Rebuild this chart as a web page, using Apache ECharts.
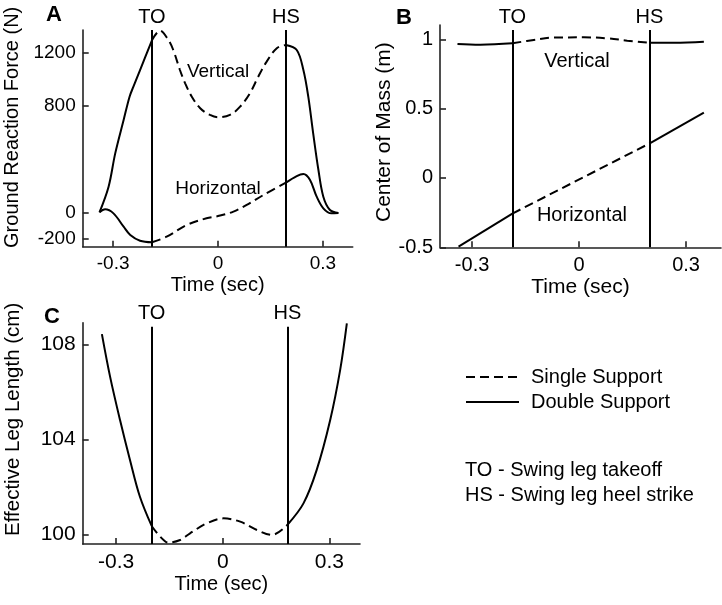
<!DOCTYPE html>
<html><head><meta charset="utf-8">
<script src="https://cdn.jsdelivr.net/npm/echarts@6/dist/echarts.min.js"></script>
<style>html,body{margin:0;padding:0;background:#fff}#c{width:722px;height:605px}</style>
</head><body><div id="c"></div>
<script>
// ---------- Panel A: Ground reaction force ----------
var aTO = -0.189, aHS = 0.194;
var aVertT = [-0.339,-0.313,-0.294,-0.27,-0.253,-0.242,-0.223,-0.189,-0.166,-0.142,-0.128,-0.109,-0.094,-0.075,-0.051,-0.023,0,0.034,0.063,0.091,0.115,0.139,0.168,0.194,0.225,0.244,0.258,0.272,0.287,0.301,0.32,0.344];
var aVertV = [0,192,442,692,867,942,1067,1290,1362,1292,1217,1067,967,867,780,730,712,730,792,892,1017,1130,1230,1255,1217,1067,867,592,317,117,17,-5];
var aHorT = [-0.339,-0.323,-0.299,-0.27,-0.251,-0.223,-0.189,-0.147,-0.089,-0.033,0,0.044,0.082,0.13,0.194,0.225,0.244,0.263,0.282,0.301,0.324,0.344];
var aHorV = [0,22,-8,-108,-170,-213,-225,-183,-95,-45,-28,5,55,130,222,272,287,242,117,30,-8,-5];
var aYTicks = [-200,0,800,1200];
var aEventTop = 1367;
// ---------- Panel B: Center of mass ----------
var bTO = -0.187, bHS = 0.197;
var bVertT = [-0.341,-0.277,-0.187,-0.127,-0.071,0.013,0.079,0.135,0.197,0.266,0.35];
var bVertV = [0.966,0.961,0.971,0.995,1.012,1.014,1.007,0.99,0.975,0.975,0.983];
var bHorT = [-0.338,-0.187,0.197,0.35];
var bHorV = [-0.495,-0.257,0.248,0.471];
var bYTicks = [-0.5,0,0.5,1];
var bEventTop = 1.067;
// ---------- Panel C: Effective leg length ----------
var cTO = -0.2, cHS = 0.182;
var cLegT = [-0.34,-0.317,-0.289,-0.261,-0.233,-0.2,-0.176,-0.153,-0.12,-0.092,-0.045,0.002,0.049,0.096,0.138,0.182,0.227,0.264,0.302,0.33,0.349];
var cLegV = [108.43,106.64,104.81,103.13,101.58,100.35,99.9,99.65,99.76,100.04,100.46,100.67,100.53,100.18,99.97,100.4,101.3,102.7,104.8,106.9,108.88];
var cYTicks = [100,104,108];
var cEventTop = 108.74;
var xTicks = [-0.3,0,0.3];

var FONT = 'Liberation Sans, Arial, sans-serif';
var DASH = [9,5];

function segs(T, V, to, hs) {
  var s1 = [], s2 = [], s3 = [];
  for (var i = 0; i < T.length; i++) {
    var p = [T[i], V[i]];
    if (T[i] <= to) s1.push(p);
    if (T[i] >= to && T[i] <= hs) s2.push(p);
    if (T[i] >= hs) s3.push(p);
  }
  return [s1, s2, s3];
}
function lineSeries(name, data, gi, dashed, smooth) {
  return {
    type: 'line', name: name, xAxisIndex: gi, yAxisIndex: gi, data: data,
    showSymbol: false, symbol: 'none', smooth: smooth, silent: true,
    lineStyle: { color: '#000', width: 2, type: dashed ? DASH : 'solid' },
    itemStyle: { color: '#000' }
  };
}
function curve(T, V, to, hs, gi, smooth) {
  var s = segs(T, V, to, hs);
  return [
    lineSeries('Double Support', s[0], gi, false, smooth),
    lineSeries('Single Support', s[1], gi, true, smooth),
    lineSeries('Double Support', s[2], gi, false, smooth)
  ];
}
function eventLines(gi, to, hs, bottom, top, fs) {
  return {
    type: 'line', name: 'events', xAxisIndex: gi, yAxisIndex: gi, data: [],
    markLine: {
      symbol: 'none', silent: true, animation: false,
      lineStyle: { color: '#000', width: 2, type: 'solid' },
      label: { show: true, position: 'end', fontSize: fs, color: '#000', fontFamily: FONT, distance: 3 },
      data: [
        [{ coord: [to, bottom] }, { coord: [to, top], label: { formatter: 'TO' } }],
        [{ coord: [hs, bottom] }, { coord: [hs, top], label: { formatter: 'HS' } }]
      ]
    }
  };
}
function textMark(gi, x, y, txt, fs) {
  return {
    type: 'scatter', name: 'note', xAxisIndex: gi, yAxisIndex: gi, symbolSize: 0.1, silent: true,
    data: [[x, y]],
    itemStyle: { opacity: 1, color: '#000' },
    label: { show: true, position: 'inside', formatter: txt, fontSize: fs, color: '#000',
             fontFamily: FONT, textBorderWidth: 0, textBorderColor: 'transparent' }
  };
}
function xAx(gi, min, max, fs, nfs, gap) {
  return {
    type: 'value', gridIndex: gi, min: min, max: max,
    name: 'Time (sec)', nameLocation: 'middle', nameGap: gap,
    nameTextStyle: { fontSize: nfs, color: '#000', fontFamily: FONT },
    axisLine: { show: true, onZero: false, lineStyle: { color: '#222', width: 1.6 } },
    axisTick: { show: true, inside: true, length: 6, customValues: xTicks, lineStyle: { color: '#222', width: 1.6 } },
    axisLabel: { customValues: xTicks, fontSize: fs, color: '#000', fontFamily: FONT, margin: 8,
                 formatter: function (v) { return v === 0 ? '0' : String(v); } },
    splitLine: { show: false }
  };
}
function yAx(gi, min, max, ticks, name, fs, nfs, gap, shift) {
  return {
    type: 'value', gridIndex: gi, min: min, max: max,
    name: name, nameLocation: 'middle', nameGap: gap,
    nameTextStyle: { fontSize: nfs, color: '#000', fontFamily: FONT, padding: [0, 0, 0, shift] },
    axisLine: { show: true, onZero: false, lineStyle: { color: '#222', width: 1.6 } },
    axisTick: { show: true, inside: true, length: 6, customValues: ticks, lineStyle: { color: '#222', width: 1.6 } },
    axisLabel: { customValues: ticks, fontSize: fs, color: '#000', fontFamily: FONT, margin: 7,
                 formatter: function (v) { return String(v); } },
    splitLine: { show: false }
  };
}

var series = [];
series = series.concat(curve(aVertT, aVertV, aTO, aHS, 0, 0.35));
series = series.concat(curve(aHorT, aHorV, aTO, aHS, 0, 0.35));
series.push(eventLines(0, aTO, aHS, -258, aEventTop, 20));
series.push(textMark(0, 0, 1052, 'Vertical', 19));
series.push(textMark(0, 0, 180, 'Horizontal', 19));

series = series.concat(curve(bVertT, bVertV, bTO, bHS, 1, 0.4));
series = series.concat(curve(bHorT, bHorV, bTO, bHS, 1, false));
series.push(eventLines(1, bTO, bHS, -0.5, bEventTop, 20));
series.push(textMark(1, -0.006, 0.838, 'Vertical', 20));
series.push(textMark(1, 0.008, -0.269, 'Horizontal', 20));

series = series.concat(curve(cLegT, cLegV, cTO, cHS, 2, 0.35));
series.push(eventLines(2, cTO, cHS, 99.59, cEventTop, 20));

var option = {
  animation: false,
  backgroundColor: '#fff',
  textStyle: { fontFamily: FONT },
  title: [
    { text: 'A', left: 46, top: 4, padding: 0, textStyle: { fontSize: 22, fontWeight: 'bold', color: '#000', fontFamily: FONT } },
    { text: 'B', left: 396, top: 7, padding: 0, textStyle: { fontSize: 22, fontWeight: 'bold', color: '#000', fontFamily: FONT } },
    { text: 'C', left: 44, top: 306, padding: 0, textStyle: { fontSize: 22, fontWeight: 'bold', color: '#000', fontFamily: FONT } }
  ],
  grid: [
    { left: 82.7, top: 30, width: 270, height: 216.7, containLabel: false, outerBoundsMode: 'none' },
    { left: 440, top: 25, width: 281, height: 222.3, containLabel: false, outerBoundsMode: 'none' },
    { left: 82.7, top: 322.7, width: 277.3, height: 221.3, containLabel: false, outerBoundsMode: 'none' }
  ],
  xAxis: [
    xAx(0, -0.387, 0.385, 19, 20, 29),
    xAx(1, -0.39, 0.398, 20, 21, 29),
    xAx(2, -0.394, 0.386, 21, 20, 30)
  ],
  yAxis: [
    yAx(0, -258, 1367, aYTicks, 'Ground Reaction Force (N)', 19, 20, 60, 22),
    yAx(1, -0.5, 1.103, bYTicks, 'Center of Mass (m)', 20, 21, 40, 8),
    yAx(2, 99.59, 108.91, cYTicks, 'Effective Leg Length (cm)', 21, 20.5, 59, 28)
  ],
  legend: {
    data: ['Single Support', 'Double Support'],
    orient: 'vertical', left: 465, top: 367, padding: 0,
    itemWidth: 53, itemHeight: 14, itemGap: 5,
    itemStyle: { opacity: 0 },
    textStyle: { fontSize: 20, color: '#000', fontFamily: FONT, padding: [0, 0, 0, 7] },
    selectedMode: false
  },
  graphic: [
    { type: 'text', left: 465, top: 460, style: { text: 'TO - Swing leg takeoff', fontSize: 20, fill: '#000', fontFamily: FONT } },
    { type: 'text', left: 465, top: 485, style: { text: 'HS - Swing leg heel strike', fontSize: 20, fill: '#000', fontFamily: FONT } }
  ],
  series: series
};
var chart = echarts.init(document.getElementById('c'), null, { renderer: 'canvas' });
chart.setOption(option);
</script>
</body></html>
